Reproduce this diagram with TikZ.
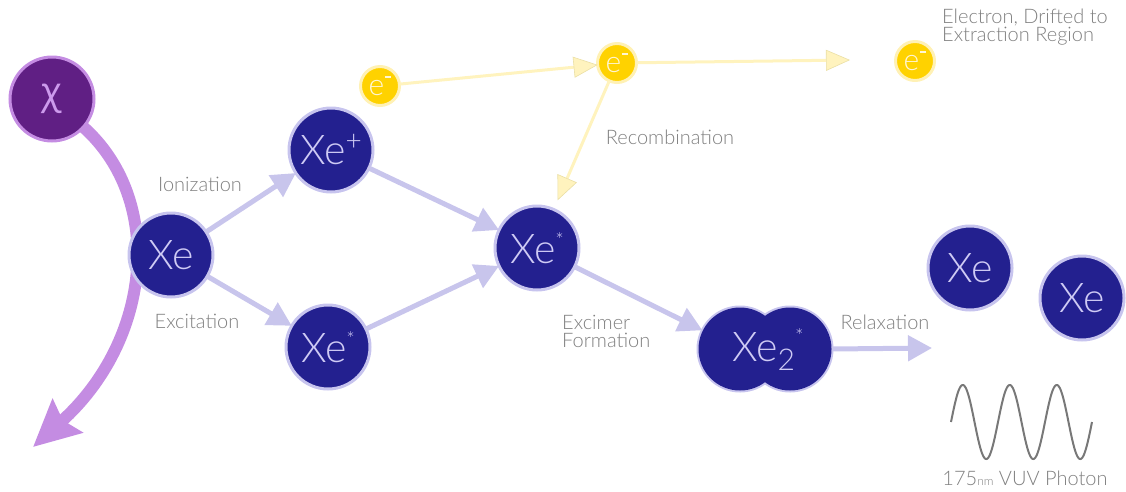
\documentclass[tikz,border=0pt]{standalone}
\usepackage{fontspec}
\setmainfont{Lato Light}
\newfontfamily\greekfont{Open Sans}
\usetikzlibrary{arrows.meta}
\definecolor{xeblue}{HTML}{23208F}
\definecolor{xeedge}{HTML}{C7C4EE}
\definecolor{xetext}{HTML}{CFCBF5}
\definecolor{lav}{HTML}{C8C5EC}
\definecolor{chifill}{HTML}{601F84}
\definecolor{chiedge}{HTML}{C48CE2}
\definecolor{chitext}{HTML}{CC9AEC}
\definecolor{egold}{HTML}{FFD200}
\definecolor{eedge}{HTML}{FFF1B5}
\definecolor{etext}{HTML}{FFF6D5}
\definecolor{yarrow}{HTML}{FFF3BE}
\definecolor{yedge}{HTML}{EADFA5}
\definecolor{labelgray}{HTML}{808080}
\definecolor{wavegray}{HTML}{787878}
\newcommand{\elminus}{\kern0.5pt\raisebox{17pt}{\rule{6.5pt}{2pt}}}
\tikzset{
  atom/.style={circle, fill=xeblue, draw=xeedge, line width=3pt, minimum size=84pt, inner sep=0pt, outer sep=0pt, text=xetext, font=\fontsize{41}{41}\selectfont},
  atomfill/.style={circle, fill=xeblue, minimum size=83pt, inner sep=0pt, outer sep=0pt},
  electron/.style={circle, fill=egold, draw=eedge, line width=3pt, minimum size=39pt, inner sep=0pt, outer sep=0pt, text=etext, font=\fontsize{30}{30}\selectfont},
  flow/.style={draw=lav, line width=5pt, -{Triangle[length=24pt,width=25pt]}},
  eflow/.style={draw=yarrow, line width=3pt, -{Triangle[length=24pt,width=21pt,fill=yarrow,color=yedge,line width=0.6pt]}},
  lbl/.style={text=labelgray, font=\fontsize{20}{18}\selectfont, inner sep=0pt},
}
\begin{document}
\begin{tikzpicture}[x=1pt,y=-1pt]
\useasboundingbox (0,0) rectangle (1126,491);
% chi particle
\node[circle, fill=chifill, draw=chiedge, line width=3pt, minimum size=84pt, inner sep=0pt, outer sep=0pt, text=chitext, font=\greekfont\fontsize{38}{38}\selectfont] (chi) at (52,99) {χ};
\coordinate (chiend) at (33,447);
\draw[draw=chiedge, line width=12pt, -{Stealth[length=46pt,width=44pt,inset=6pt]}] (chi) .. controls (165,200) and (152,340) .. (chiend);
% atoms
\node[atom] (xe) at (171,255) {Xe};
\node[atom] (xeplus) at (331,150) {Xe\raisebox{14pt}{\fontsize{28}{28}\selectfont +}};
\node[atom] (xestarb) at (328,347) {Xe\raisebox{16pt}{\fontsize{20}{20}\selectfont *}};
\node[atom] (xestar) at (537,248) {Xe\raisebox{16pt}{\fontsize{20}{20}\selectfont *}};
\node[atom] (x2a) at (740,349) {};
\node[atom] (x2b) at (790,349) {};
\node[atomfill] (x2af) at (740,349) {};
\node[atomfill] (x2bf) at (790,349) {};
\node[text=xetext, font=\fontsize{41}{41}\selectfont, inner sep=0pt] (x2) at (768,350) {Xe\raisebox{-9pt}{\fontsize{30}{30}\selectfont 2}\raisebox{18pt}{\fontsize{20}{20}\selectfont *}};
\node[atom] (xer1) at (970,268) {Xe};
\node[atom] (xer2) at (1082,298) {Xe};
% electrons
\node[electron] (e1) at (380,86) {e\elminus};
\node[electron] (e2) at (617,63) {e\elminus};
\node[electron] (e3) at (915,61) {e\elminus};
\coordinate (driftend) at (850,60);
\coordinate (relaxend) at (932,348);
% connectors
\draw[flow] (xe) -- (xeplus);
\draw[flow] (xe) -- (xestarb);
\draw[flow] (xeplus) -- (xestar);
\draw[flow] (xestarb) -- (xestar);
\draw[flow] (xestar) -- (x2a);
\draw[flow] (x2b.east) -- (relaxend);
\draw[eflow] (e1) -- (e2);
\draw[eflow] (e2) -- (driftend);
\draw[eflow, shorten >=10pt] (e2) -- (xestar);
% labels
\node[lbl] (lion) at (200,184) {Ionization};
\node[lbl] (lexc) at (197,321) {Excitation};
\node[lbl] (lrec) at (670,137) {Recombination};
\node[lbl, anchor=west, align=left] (lexcimer) at (562,331) {Excimer\\Formation};
\node[lbl] (lrel) at (885,322) {Relaxation};
\node[lbl, anchor=north west, align=left] (ldrift) at (942,9) {Electron, Drifted to\\Extraction Region};
% photon
\draw[wavegray, line width=2pt] plot[domain=0:1080, samples=220, smooth] ({951+\x*0.130556}, {422-37*sin(\x)});
\node[lbl] (lphoton) at (1025,478) {175{\fontsize{12}{12}\selectfont nm} VUV Photon};
\end{tikzpicture}
\end{document}
